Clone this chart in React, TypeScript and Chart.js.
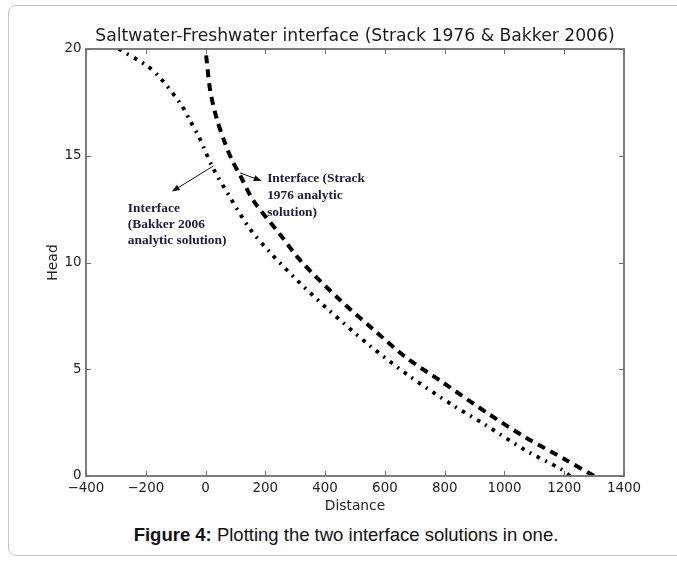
import React, { useEffect, useRef } from 'react';
import { Chart, registerables } from 'chart.js';

Chart.register(...registerables);

// ---- data ----
const titleText = 'Saltwater-Freshwater interface (Strack 1976 & Bakker 2006)';
const xLabel = 'Distance';
const yLabel = 'Head';
const xMin = -400;
const xMax = 1400;
const xStep = 200;
const yMin = 0;
const yMax = 20;
const yStep = 5;

// Strack 1976 analytic interface (dashed)
const strackX = [2, 15, 37, 65, 90, 115, 160, 250, 320, 450, 560, 670, 790, 950, 1075, 1200, 1300];
const strackH = [19.7, 18.1, 16.75, 15.6, 14.75, 14.1, 12.9, 11.3, 10.05, 8.24, 6.88, 5.56, 4.42, 2.88, 1.77, 0.8, 0];

// Bakker 2006 analytic interface (dotted)
const bakkerX = [-290, -200, -155, -82, -54, -21, 22, 80, 147, 214, 304, 410, 550, 685, 829, 930, 1071, 1188, 1220];
const bakkerH = [20, 19.25, 18.7, 17.4, 16.7, 15.85, 14.5, 13.1, 11.6, 10.5, 9.2, 7.8, 6.1, 4.65, 3.3, 2.45, 1.2, 0.33, 0];

// annotations (data coordinates)
const strackNote = ['Interface (Strack', '1976 analytic', 'solution)'];
const strackNoteAt = [206, 13.91];
const strackArrow = [115, 14.2, 188, 13.82]; // tail x, tail h, tip x, tip h
const bakkerNote = ['Interface', '(Bakker 2006', 'analytic solution)'];
const bakkerNoteAt = [-260, 12.55];
const bakkerArrow = [26, 14.52, -113, 13.32];

const captionBold = 'Figure 4:';
const captionText = ' Plotting the two interface solutions in one.';

const toPoints = (xs: number[], ys: number[]) => xs.map((x, i) => ({ x, y: ys[i] }));
const fmt = (v: number) => (v < 0 ? '\u2212' + Math.abs(v) : String(v));

const framePlugin = {
  id: 'frameAndNotes',
  afterDatasetsDraw(chart: any) {
    const { ctx, chartArea: a, scales } = chart;
    const xs = scales.x;
    const ys = scales.y;
    ctx.save();
    // title
    ctx.font = '17.2px "DejaVu Sans", sans-serif';
    ctx.fillStyle = '#1a1a1a';
    ctx.textAlign = 'center';
    ctx.textBaseline = 'middle';
    ctx.fillText(titleText, (a.left + a.right) / 2, a.top - 12);

    ctx.strokeStyle = '#6e6e6e';
    ctx.lineWidth = 1;
    xs.ticks.forEach((t: any) => {
      const px = Math.round(xs.getPixelForValue(t.value)) + 0.5;
      ctx.beginPath();
      ctx.moveTo(px, a.bottom);
      ctx.lineTo(px, a.bottom - 5);
      ctx.moveTo(px, a.top);
      ctx.lineTo(px, a.top + 5);
      ctx.stroke();
    });
    ys.ticks.forEach((t: any) => {
      const py = Math.round(ys.getPixelForValue(t.value)) + 0.5;
      ctx.beginPath();
      ctx.moveTo(a.left, py);
      ctx.lineTo(a.left + 5, py);
      ctx.moveTo(a.right, py);
      ctx.lineTo(a.right - 5, py);
      ctx.stroke();
    });
    ctx.lineWidth = 1.8;
    ctx.strokeRect(a.left, a.top, a.right - a.left, a.bottom - a.top);

    const arrow = (arr: number[]) => {
      const x0 = xs.getPixelForValue(arr[0]);
      const y0 = ys.getPixelForValue(arr[1]);
      const x1 = xs.getPixelForValue(arr[2]);
      const y1 = ys.getPixelForValue(arr[3]);
      const ang = Math.atan2(y1 - y0, x1 - x0);
      const len = 8;
      const hw = 3;
      ctx.strokeStyle = '#111';
      ctx.fillStyle = '#111';
      ctx.lineWidth = 1;
      ctx.beginPath();
      ctx.moveTo(x0, y0);
      ctx.lineTo(x1 - Math.cos(ang) * len * 0.8, y1 - Math.sin(ang) * len * 0.8);
      ctx.stroke();
      const bx = x1 - Math.cos(ang) * len;
      const by = y1 - Math.sin(ang) * len;
      ctx.beginPath();
      ctx.moveTo(x1, y1);
      ctx.lineTo(bx + Math.sin(ang) * hw, by - Math.cos(ang) * hw);
      ctx.lineTo(bx - Math.sin(ang) * hw, by + Math.cos(ang) * hw);
      ctx.closePath();
      ctx.fill();
    };
    arrow(strackArrow);
    arrow(bakkerArrow);

    const note = (lines: string[], at: number[], spacing: number) => {
      const px = xs.getPixelForValue(at[0]);
      const py = ys.getPixelForValue(at[1]);
      ctx.font = 'bold 13.4px "Liberation Serif", "Times New Roman", serif';
      ctx.fillStyle = '#1b1b3a';
      ctx.textAlign = 'left';
      ctx.textBaseline = 'middle';
      lines.forEach((l, i) => ctx.fillText(l, px, py + i * spacing));
    };
    note(strackNote, strackNoteAt, 16.9);
    note(bakkerNote, bakkerNoteAt, 16.1);
    ctx.restore();
  },
};

export default function App() {
  const ref = useRef<HTMLCanvasElement>(null);
  useEffect(() => {
    if (!ref.current) return;
    const tickFont = { family: '"DejaVu Sans", sans-serif', size: 13.4 };
    const chart = new Chart(ref.current, {
      type: 'scatter',
      data: {
        datasets: [
          {
            label: 'Strack 1976',
            data: toPoints(strackX, strackH),
            showLine: true,
            borderColor: '#000',
            borderWidth: 4,
            borderDash: [8, 6],
            pointRadius: 0,
            tension: 0.3,
            fill: false,
          },
          {
            label: 'Bakker 2006',
            data: toPoints(bakkerX, bakkerH),
            showLine: true,
            borderColor: '#000',
            borderWidth: 3.8,
            borderDash: [3.5, 6, 2, 6],
            pointRadius: 0,
            tension: 0.3,
            fill: false,
          },
        ],
      },
      options: {
        responsive: false,
        animation: false,
        devicePixelRatio: 1,
        layout: { padding: { left: 0, right: 86, top: 49, bottom: 0 } },
        plugins: {
          legend: { display: false },
          tooltip: { enabled: false },
          title: { display: false },
        },
        scales: {
          x: {
            type: 'linear',
            min: xMin,
            max: xMax,
            grid: { display: false, drawTicks: false },
            border: { display: false },
            ticks: {
              stepSize: xStep,
              padding: 4,
              color: '#222',
              font: tickFont,
              maxRotation: 0,
              callback: (v: any) => fmt(Number(v)),
            },
            title: {
              display: true,
              text: xLabel,
              color: '#222',
              font: { family: '"DejaVu Sans", sans-serif', size: 13.8 },
              padding: { top: 0, bottom: 5 },
            },
            afterFit: (s: any) => {
              s.height = 44;
            },
          },
          y: {
            type: 'linear',
            min: yMin,
            max: yMax,
            grid: { display: false, drawTicks: false },
            border: { display: false },
            ticks: {
              stepSize: yStep,
              padding: 4.5,
              color: '#222',
              font: tickFont,
              callback: (v: any) => fmt(Number(v)),
            },
            title: {
              display: true,
              text: yLabel,
              color: '#222',
              font: { family: '"DejaVu Sans", sans-serif', size: 14 },
              padding: { top: 44.6, bottom: 0 },
            },
            afterFit: (s: any) => {
              s.width = 86;
            },
          },
        },
      },
      plugins: [framePlugin],
    } as any);
    return () => chart.destroy();
  }, []);

  return (
    <div
      style={{
        position: 'absolute',
        left: 0,
        top: 0,
        width: 677,
        height: 563,
        overflow: 'hidden',
        background: '#fff',
      }}
    >
      <div
        style={{
          position: 'absolute',
          left: 8,
          top: 5,
          width: 720,
          height: 549,
          border: '1px solid #c4c4c4',
          borderRadius: 8,
        }}
      />
      <canvas ref={ref} width={710} height={520} style={{ position: 'absolute', left: 0, top: 0 }} />
      <div
        style={{
          position: 'absolute',
          left: 0,
          top: 524,
          width: 692,
          textAlign: 'center',
          fontFamily: '"Liberation Sans", Arial, sans-serif',
          fontSize: 18.5,
          lineHeight: '22px',
          color: '#111',
          whiteSpace: 'nowrap',
        }}
      >
        <b>{captionBold}</b>
        {captionText}
      </div>
    </div>
  );
}
